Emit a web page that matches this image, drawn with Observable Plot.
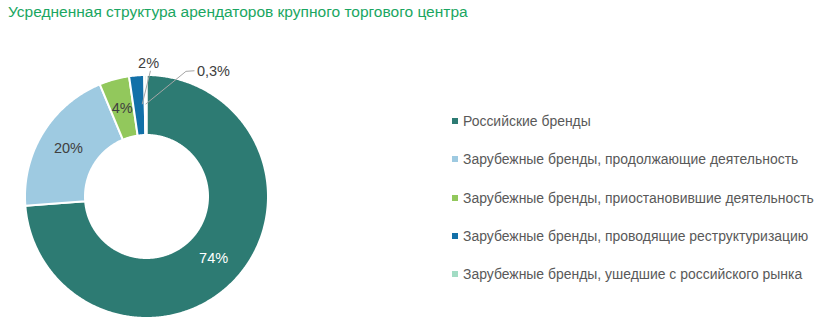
<!DOCTYPE html>
<html>
<head>
<meta charset="utf-8">
<script src="https://cdn.jsdelivr.net/npm/d3@7"></script>
<script src="https://cdn.jsdelivr.net/npm/@observablehq/plot@0.6"></script>
<style>
  body { margin: 0; background: #fff; font-family: "Liberation Sans", Arial, sans-serif; }
  #wrap { position: relative; width: 825px; height: 327px; overflow: hidden; }
  #title { position: absolute; left: 8px; top: 3px; font-size: 15.5px; color: #1aa661; white-space: nowrap; }
  #chart { position: absolute; left: 0; top: 0; }
  #legend { position: absolute; left: 452px; top: 0; }
  .item { position: absolute; left: 0; white-space: nowrap; font-size: 13.95px; color: #595959; display: flex; align-items: center; }
  .sw { width: 6px; height: 6px; margin-right: 5px; }
</style>
</head>
<body>
<div id="wrap">
  <div id="title"></div>
  <div id="chart"></div>
  <div id="legend"></div>
</div>
<script>
const title = "Усредненная структура арендаторов крупного торгового центра";
const categories = [
  "Российские бренды",
  "Зарубежные бренды, продолжающие деятельность",
  "Зарубежные бренды, приостановившие деятельность",
  "Зарубежные бренды, проводящие реструктуризацию",
  "Зарубежные бренды, ушедшие с российского рынка"
];
const values = [74, 20, 4, 2, 0.3];
const valueLabels = ["74%", "20%", "4%", "2%", "0,3%"];
const colors = ["#2d7b73", "#9ecae1", "#92c85c", "#1270a8", "#a2dcc4"];

document.getElementById("title").textContent = title;

// geometry
const cx = 146, cy = 196, R = 121.5, rInner = 61.5 / 121.5;
const total = d3.sum(values);
const deg = Math.PI / 180;
let acc = 0;
const slices = values.map((v, i) => {
  const a0 = acc / total * 360;
  acc += v;
  const a1 = acc / total * 360;
  return {cat: categories[i], a0, a1, mid: (a0 + a1) / 2, i};
});
const pol = (r, a) => ({x: r * Math.sin(a * deg), y: r * Math.cos(a * deg)});

const ring = [];
for (const s of slices) {
  const n = Math.max(2, Math.ceil((s.a1 - s.a0) / 0.5));
  for (let k = 0; k <= n; k++) ring.push({...pol(1, s.a0 + (s.a1 - s.a0) * k / n), cat: s.cat});
  for (let k = n; k >= 0; k--) ring.push({...pol(rInner, s.a0 + (s.a1 - s.a0) * k / n), cat: s.cat});
}

const rMid = (1 + rInner) / 2;
const inside = slices.slice(0, 3).map(s => ({...pol(rMid, s.mid), label: valueLabels[s.i], fill: s.i === 0 ? "#ffffff" : "#404040"}));

// outside labels with leader lines (small slices)
const s3 = slices[3], s4 = slices[4];
const p3a = pol(0.76, s3.mid + 2), p3b = pol(1.035, 1.8);
const p4a = pol(0.76, s4.mid), p4e = pol(1.08, 17.5);
const leaders = [
  {x1: p3a.x, y1: p3a.y, x2: p3b.x, y2: p3b.y},
  {x1: p4a.x, y1: p4a.y, x2: p4e.x, y2: p4e.y},
  {x1: p4e.x, y1: p4e.y, x2: p4e.x + 0.07, y2: p4e.y + 0.005}
];
const outsideMid = [{...pol(1.095, 0.9), label: valueLabels[3]}];
const outsideStart = [{x: p4e.x + 0.09, y: p4e.y, label: valueLabels[4]}];

const plot = Plot.plot({
  width: 440, height: 327,
  margin: 0,
  x: {domain: [-1, 1], range: [cx - R, cx + R], axis: null},
  y: {domain: [-1, 1], range: [cy + R, cy - R], axis: null},
  color: {domain: categories, range: colors},
  style: {fontFamily: "'Liberation Sans', Arial, sans-serif", background: "transparent"},
  marks: [
    Plot.line(ring, {x: "x", y: "y", z: "cat", fill: "cat", stroke: "white", strokeWidth: 2, curve: "linear-closed"}),
    Plot.link(leaders, {x1: "x1", y1: "y1", x2: "x2", y2: "y2", stroke: "#a6a6a6", strokeWidth: 1}),
    Plot.text(inside, {x: "x", y: "y", text: "label", fill: "fill", fontSize: 14.5}),
    Plot.text(outsideMid, {x: "x", y: "y", text: "label", textAnchor: "middle", fill: "#404040", fontSize: 14.5}),
    Plot.text(outsideStart, {x: "x", y: "y", text: "label", textAnchor: "start", fill: "#404040", fontSize: 14.5})
  ]
});
document.getElementById("chart").appendChild(plot);

const legend = document.getElementById("legend");
categories.forEach((c, i) => {
  const d = document.createElement("div");
  d.className = "item";
  d.style.top = (121 + i * 38.3 - 8) + "px";
  d.style.height = "16px";
  const sw = document.createElement("span");
  sw.className = "sw";
  sw.style.background = colors[i];
  const t = document.createElement("span");
  t.textContent = c;
  d.appendChild(sw); d.appendChild(t);
  legend.appendChild(d);
});
</script>
</body>
</html>
